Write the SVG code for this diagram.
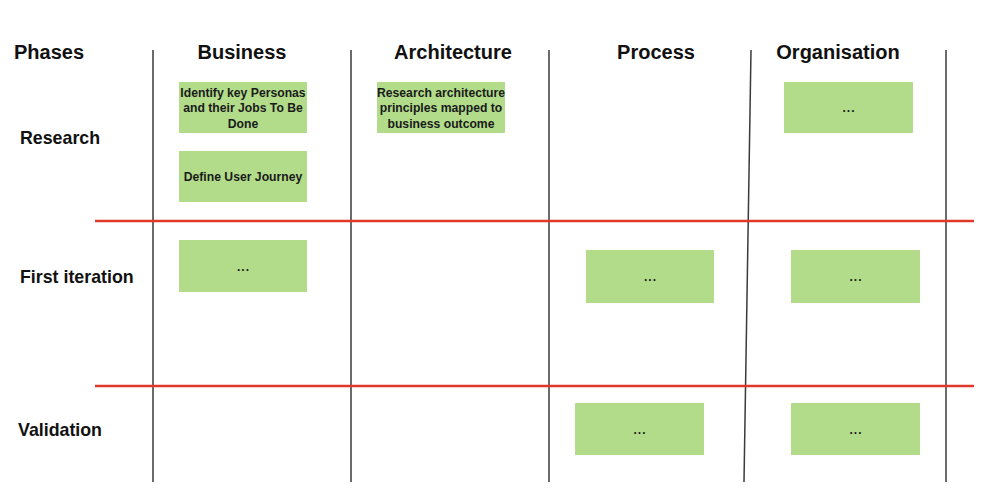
<svg xmlns="http://www.w3.org/2000/svg" width="1000" height="499" viewBox="0 0 1000 499">
<style>
.hdr{font-family:"Liberation Sans",Arial,sans-serif;font-weight:bold;font-size:20px;fill:#111;text-anchor:middle}
.row{font-family:"Liberation Sans",Arial,sans-serif;font-weight:bold;font-size:17.8px;fill:#111}
.box{fill:#b2dc8a}
.bt{font-family:"Liberation Sans",Arial,sans-serif;font-weight:bold;font-size:12.2px;fill:#1a1a1a;text-anchor:middle}
.dots{font-family:"Liberation Sans",Arial,sans-serif;font-weight:bold;font-size:12px;letter-spacing:1px;fill:#1a1a1a;text-anchor:middle}
.vl{stroke:#3a3a3a;stroke-width:1.5;fill:none}
.rl{stroke:#e0392b;stroke-width:2.5;fill:none}
</style>
<rect width="1000" height="499" fill="#fff"/>
<g id="grid">
<line class="vl" x1="153" y1="50" x2="153" y2="482"/>
<line class="vl" x1="351" y1="50" x2="351" y2="482"/>
<line class="vl" x1="549" y1="50" x2="549" y2="482"/>
<line class="vl" x1="751" y1="50" x2="744" y2="482"/>
<line class="vl" x1="946" y1="50" x2="946" y2="482"/>
<line class="rl" x1="95" y1="221" x2="974" y2="221"/>
<line class="rl" x1="95" y1="386" x2="974" y2="386"/>
</g>
<g id="headers">
<text class="hdr" x="49" y="59">Phases</text>
<text class="hdr" x="242" y="59">Business</text>
<text class="hdr" x="453" y="59">Architecture</text>
<text class="hdr" x="656" y="59">Process</text>
<text class="hdr" x="838" y="59">Organisation</text>
</g>
<g id="rows">
<text class="row" x="20" y="144">Research</text>
<text class="row" x="20" y="283">First iteration</text>
<text class="row" x="18" y="436">Validation</text>
</g>
<g id="n-personas"><rect class="box" x="179" y="82" width="128" height="51"/><text class="bt" x="243" y="96.5">Identify key Personas</text><text class="bt" x="243" y="112">and their Jobs To Be</text><text class="bt" x="243" y="127.5">Done</text></g>
<g id="n-journey"><rect class="box" x="179" y="151" width="128" height="51"/><text class="bt" x="243" y="181">Define User Journey</text></g>
<g id="n-arch"><rect class="box" x="377" y="82" width="128" height="51"/><text class="bt" x="441" y="96.5">Research architecture</text><text class="bt" x="441" y="112">principles mapped to</text><text class="bt" x="441" y="127.5">business outcome</text></g>
<g id="n-org-research"><rect class="box" x="784" y="82" width="129" height="51"/><text class="dots" x="849" y="112">...</text></g>
<g id="n-bus-first"><rect class="box" x="179" y="240" width="128" height="52"/><text class="dots" x="243.5" y="271">...</text></g>
<g id="n-proc-first"><rect class="box" x="586" y="250" width="128" height="53"/><text class="dots" x="650.5" y="281">...</text></g>
<g id="n-org-first"><rect class="box" x="791" y="250" width="129" height="53"/><text class="dots" x="856" y="281">...</text></g>
<g id="n-proc-valid"><rect class="box" x="575" y="403" width="129" height="52"/><text class="dots" x="640" y="434">...</text></g>
<g id="n-org-valid"><rect class="box" x="791" y="403" width="129" height="52"/><text class="dots" x="856" y="434">...</text></g>
</svg>
